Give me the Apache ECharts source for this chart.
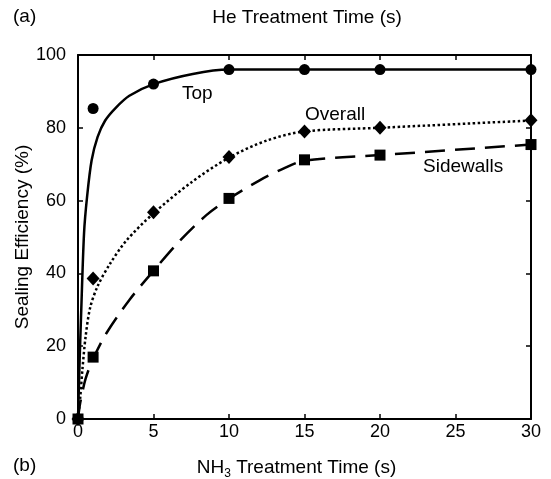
<!DOCTYPE html>
<html>
<head>
<meta charset="utf-8">
<script src="https://cdn.jsdelivr.net/npm/echarts@6/dist/echarts.min.js"></script>
<style>
html, body { margin: 0; padding: 0; background: #fff; }
#main { width: 551px; height: 479px; }
</style>
</head>
<body>
<div id="main"></div>
<script>
// measured points
var times = [0, 1, 5, 10, 15, 20, 30];
var topVals = [0, 85.3, 92, 96, 96, 96, 96];
var overallVals = [0, 38.6, 56.8, 72, 79, 80, 82.1];
var sideVals = [0, 17, 40.7, 60.6, 71.2, 72.5, 75.4];

// fitted curves
var topFit = [[0, 0], [0.1, 15], [0.2, 28], [0.4, 51], [0.6, 61], [0.9, 71], [1.3, 77.5],
  [1.8, 82], [2.5, 85.5], [3.4, 88.8], [5, 92], [7.6, 94.8], [10, 96], [15, 96], [20, 96], [30, 96]];
var overallFit = [[0, 0], [0.15, 6], [0.3, 14], [0.5, 22.5], [0.8, 30.5], [1.3, 36.5],
  [2.1, 42.5], [3.2, 49], [5, 56.5], [7.5, 65], [10, 71.8], [12.5, 76.5],
  [15, 79], [20, 80], [30, 82]];
var sideFit = [[0, 0], [0.15, 4.5], [0.5, 11], [1, 16.5], [1.9, 23.7], [3.44, 32.9],
  [5, 40.7], [6.64, 48.5], [8.5, 56], [10, 60.5], [12, 65.5], [13.6, 68.8],
  [15, 71], [20, 72.5], [30, 75.4]];

function pairs(ys) {
  return times.map(function (t, i) { return [t, ys[i]]; });
}

var font = 'Liberation Sans, Arial, sans-serif';
var myChart = echarts.init(document.getElementById('main'));

var frameLine = { show: true, onZero: false, lineStyle: { color: '#000', width: 2 } };
var frameTick = { inside: true, length: 5, lineStyle: { color: '#000', width: 1.5 } };
var solidMark = { color: '#000', opacity: 1 };

var option = {
  animation: false,
  textStyle: { fontFamily: font, color: '#000' },
  grid: { left: 78, top: 55, right: 20, bottom: 60, containLabel: false, outerBoundsMode: 'none' },
  xAxis: [{
    type: 'value', min: 0, max: 30, interval: 5, position: 'bottom',
    name: 'NH{sub|3} Treatment Time (s)', nameLocation: 'middle', nameGap: 37,
    nameTextStyle: { fontSize: 19, color: '#000', fontFamily: font, padding: [0, 16, 0, 0],
      rich: { sub: { fontSize: 12, fontFamily: font, padding: [12, 0, 0, 0] } } },
    axisLine: frameLine,
    axisTick: frameTick,
    axisLabel: { fontSize: 18, color: '#000', margin: 4 },
    splitLine: { show: false }
  }, {
    type: 'value', min: 0, max: 30, interval: 5, position: 'top',
    name: 'He Treatment Time (s)', nameLocation: 'middle', nameGap: 28,
    nameTextStyle: { fontSize: 19, color: '#000', fontFamily: font, padding: [0, 0, 0, 5] },
    axisLine: frameLine,
    axisTick: frameTick,
    axisLabel: { show: false },
    splitLine: { show: false }
  }],
  yAxis: [{
    type: 'value', min: 0, max: 100, interval: 20, position: 'left',
    axisLine: frameLine,
    axisTick: frameTick,
    axisLabel: { fontSize: 18, color: '#000', margin: 12 },
    splitLine: { show: false }
  }, {
    type: 'value', min: 0, max: 100, interval: 20, position: 'right',
    axisLine: frameLine,
    axisTick: frameTick,
    axisLabel: { show: false },
    splitLine: { show: false }
  }],
  series: [{
    name: 'Top fit', type: 'line', data: topFit, showSymbol: false, smooth: 0.3,
    lineStyle: { color: '#000', width: 2.5 }
  }, {
    name: 'Overall fit', type: 'line', data: overallFit, showSymbol: false, smooth: 0.3,
    lineStyle: { color: '#000', width: 2.5, type: [2.5, 2.5] }
  }, {
    name: 'Sidewalls fit', type: 'line', data: sideFit, showSymbol: false, smooth: 0.3,
    lineStyle: { color: '#000', width: 2.5, type: [20, 10] }
  }, {
    name: 'Top', type: 'scatter', data: pairs(topVals), symbol: 'circle', symbolSize: 11,
    itemStyle: solidMark
  }, {
    name: 'Overall', type: 'scatter', data: pairs(overallVals), symbol: 'diamond', symbolSize: [13, 14],
    itemStyle: solidMark
  }, {
    name: 'Sidewalls', type: 'scatter', data: pairs(sideVals), symbol: 'rect', symbolSize: 11,
    itemStyle: solidMark
  }],
  graphic: [
    { type: 'text', x: 23, y: 237, rotation: Math.PI / 2,
      style: { text: 'Sealing Efficiency (%)', font: '19px ' + font, fill: '#000',
        align: 'center', verticalAlign: 'middle' } },
    { type: 'text', left: 13, top: 7, style: { text: '(a)', font: '19px ' + font, fill: '#000' } },
    { type: 'text', left: 13, top: 456, style: { text: '(b)', font: '19px ' + font, fill: '#000' } },
    { type: 'text', left: 182, top: 84, style: { text: 'Top', font: '19px ' + font, fill: '#000' } },
    { type: 'text', left: 305, top: 105, style: { text: 'Overall', font: '19px ' + font, fill: '#000' } },
    { type: 'text', left: 423, top: 157, style: { text: 'Sidewalls', font: '19px ' + font, fill: '#000' } }
  ]
};

myChart.setOption(option);
</script>
</body>
</html>
